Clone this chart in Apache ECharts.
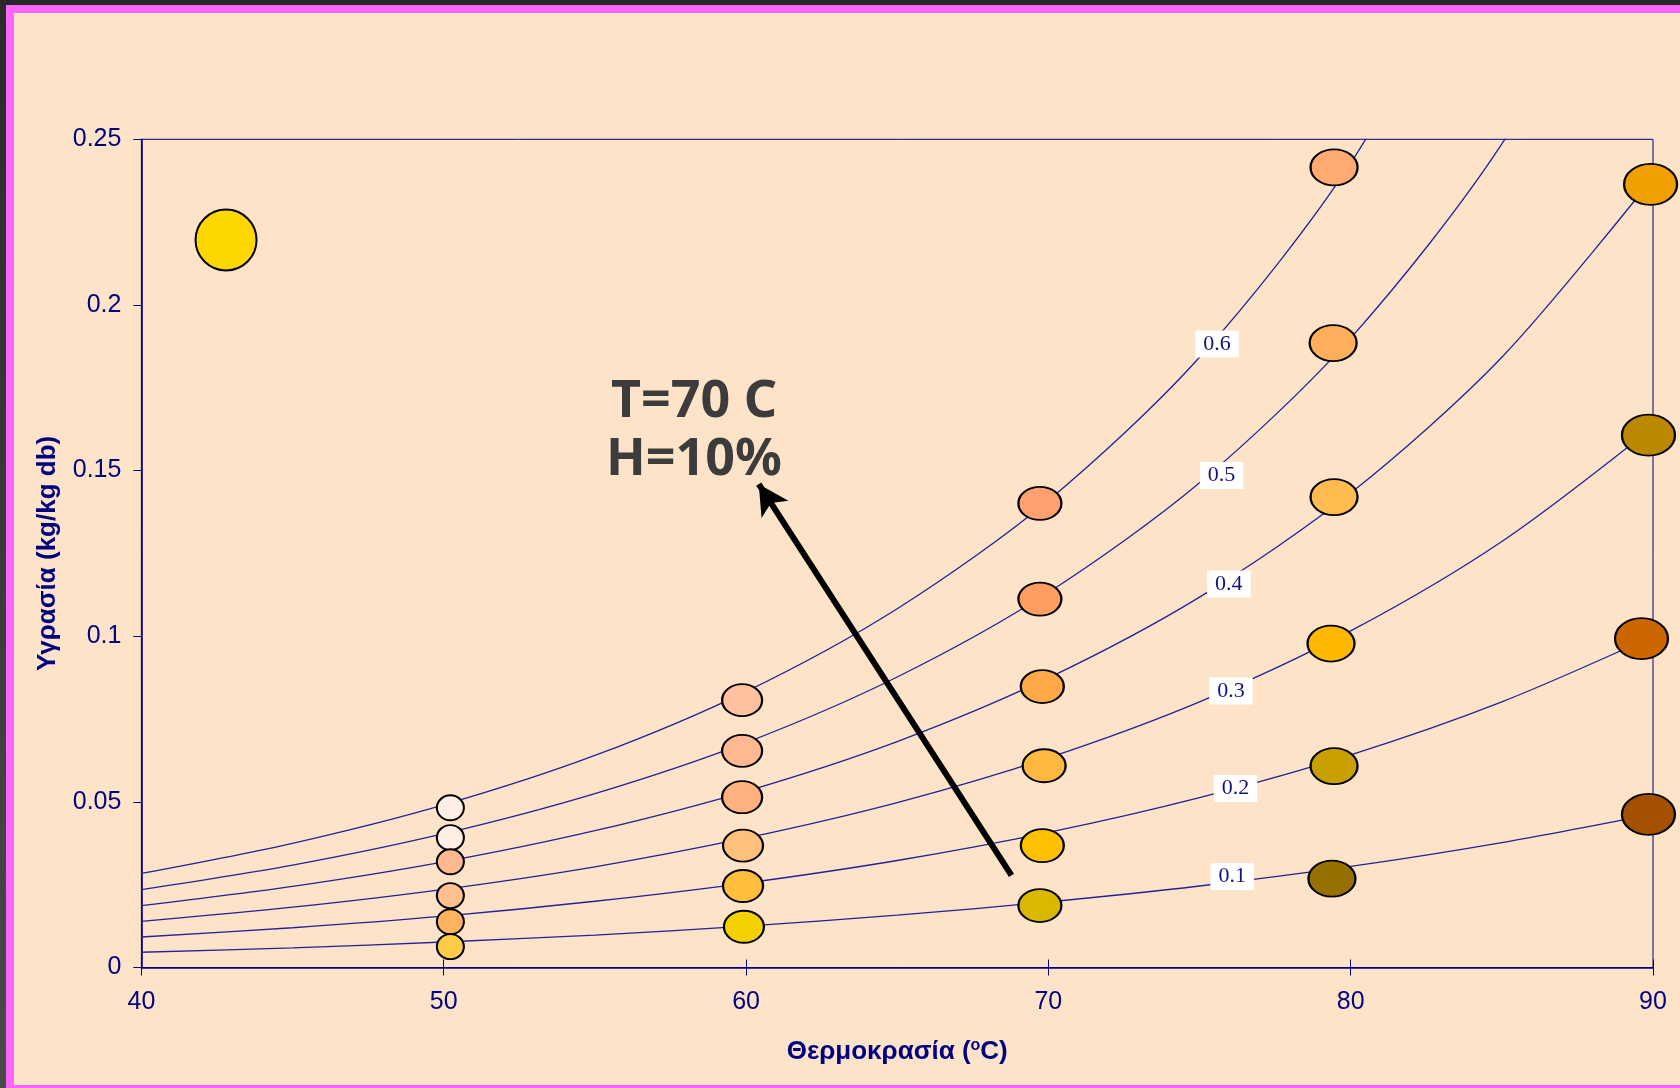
<!DOCTYPE html>
<html>
<head>
<meta charset="utf-8">
<script src="https://cdn.jsdelivr.net/npm/echarts@6/dist/echarts.min.js"></script>
<style>
  html, body { margin: 0; padding: 0; width: 1680px; height: 1088px; overflow: hidden; background: #2a2a2a; }
  #chart { position: absolute; left: 0; top: 0; width: 1680px; height: 1088px; background: #FDE3C8; }
  .bd { position: absolute; pointer-events: none; }
</style>
</head>
<body>
<div id="chart"></div>
<div class="bd" style="left:0;top:0;width:1680px;height:5px;background:#262626"></div>
<div class="bd" style="left:0;top:0;width:6px;height:1088px;background:linear-gradient(#2a2a2a,#4a4a4a)"></div>
<div class="bd" style="left:6px;top:5px;width:1674px;height:8px;background:#FF66FF"></div>
<div class="bd" style="left:6px;top:5px;width:8px;height:1083px;background:#FF66FF"></div>
<div class="bd" style="left:6px;top:1085px;width:1674px;height:3px;background:#FF66FF"></div>
<script>
// ---------- data ----------
const xTicks = [40, 50, 60, 70, 80, 90];
const curveX = [40, 45, 50, 55, 60, 65, 70, 75, 80, 85, 90];
const rh01 = [0.0046, 0.0059, 0.0077, 0.0098, 0.0125, 0.0158, 0.0198, 0.0246, 0.0305, 0.0377, 0.0463];
const rh02 = [0.0092, 0.0120, 0.0155, 0.0200, 0.0255, 0.0323, 0.0408, 0.0513, 0.0642, 0.0802, 0.1000];
const rh03 = [0.0139, 0.0182, 0.0236, 0.0304, 0.0391, 0.0498, 0.0633, 0.0802, 0.1016, 0.1286, 0.1631];
const rh04 = [0.0187, 0.0245, 0.0319, 0.0413, 0.0532, 0.0682, 0.0874, 0.1118, 0.1432, 0.1842, 0.2384];
const rh05 = [0.0235, 0.0309, 0.0404, 0.0525, 0.0679, 0.0877, 0.1132, 0.1463, 0.1900, 0.2486, 0.3295];
const rh06 = [0.0284, 0.0375, 0.0491, 0.0640, 0.0833, 0.1083, 0.1410, 0.1842, 0.2428, 0.3243, null];
const curveNames = ['0.1', '0.2', '0.3', '0.4', '0.5', '0.6'];

// markers (top to bottom in each column)
const markX50 = [50.22, 50.22, 50.22, 50.22, 50.22, 50.22];
const markY50 = [0.0482, 0.0392, 0.0319, 0.0217, 0.0138, 0.0063];
const markX60 = [59.87, 59.87, 59.87, 59.9, 59.9, 59.93];
const markY60 = [0.0807, 0.0654, 0.0514, 0.0368, 0.0246, 0.0123];
const markX70 = [69.72, 69.72, 69.8, 69.86, 69.8, 69.72];
const markY70 = [0.1401, 0.1112, 0.0848, 0.0609, 0.0368, 0.0187];
const markX80 = [79.45, 79.42, 79.45, 79.35, 79.45, 79.38];
const markY80 = [0.2415, 0.1885, 0.1420, 0.0978, 0.0608, 0.0268];
const markX90 = [89.92, 89.85, 89.62, 89.85];
const markY90 = [0.2364, 0.1607, 0.0993, 0.0462];
const bigX = [42.8];
const bigY = [0.2196];

// curve label positions
const lblX = [76.08, 76.19, 76.04, 75.97, 75.73, 75.58];
const lblY = [0.0275, 0.054, 0.0835, 0.1158, 0.1485, 0.1882];

// annotation
const noteText = ['T=70 C', 'H=10%'];
const noteX = [58.28];
const noteY = [0.1618];
const arrowFrom = [68.78, 0.0278];
const arrowTo = [60.42, 0.1459];

// ---------- styles ----------
const col50 = ['#FFEEE4', '#FFEEE4', '#FFB890', '#FFBF8E', '#FFB35E', '#FFCC48'];
const col60 = ['#FFC0A0', '#FFB890', '#FFB27E', '#FFC07E', '#FFBE3C', '#F5D000'];
const col70 = ['#FFA070', '#FF9E60', '#FFA848', '#FFB840', '#FFC000', '#DAB800'];
const col80 = ['#FFAA70', '#FFAE5C', '#FFBA50', '#FFB800', '#C8A000', '#967000'];
const col90 = ['#F0A000', '#BC8800', '#CC6600', '#A35000'];
const size50 = [27, 25], size60 = [40, 32], size70 = [43, 33], size80 = [47, 36], size90 = [53, 41];

const NAVY = '#000080';
const LINE = '#22229a';
const ELLIPSE = 'path://M0,10A10,10 0 1,1 20,10A10,10 0 1,1 0,10Z';
const SANS = '"Liberation Sans", Arial, sans-serif';

function col(xs, ys, colors, size) {
  return xs.map((x, i) => ({
    value: [x, ys[i]],
    symbolSize: size,
    itemStyle: { color: colors[i] }
  }));
}
const markerData = [].concat(
  col(markX50, markY50, col50, size50),
  col(markX60, markY60, col60, size60),
  col(markX70, markY70, col70, size70),
  col(markX80, markY80, col80, size80),
  col(markX90, markY90, col90, size90),
  col(bigX, bigY, ['#FFD700'], [61, 61])
);

const curves = [rh01, rh02, rh03, rh04, rh05, rh06];
const curveSeries = curves.map((arr, k) => ({
  name: 'RH ' + curveNames[k],
  type: 'line',
  data: curveX.map((x, i) => [x, arr[i]]),
  smooth: 0.3,
  showSymbol: false,
  symbol: 'none',
  clip: true,
  lineStyle: { color: LINE, width: 1.3 },
  z: 2,
  silent: true
}));

const chart = echarts.init(document.getElementById('chart'), null, { renderer: 'canvas' });
chart.setOption({
  animation: false,
  backgroundColor: 'transparent',
  grid: { left: 141.4, right: 27, top: 139.3, bottom: 120.5, show: true, borderColor: NAVY, borderWidth: 1, backgroundColor: 'transparent' },
  xAxis: [{
    type: 'value', min: 40, max: 90, interval: 10,
    name: 'Θερμοκρασία ({sup|o}C)',
    nameLocation: 'middle', nameGap: 70,
    nameTextStyle: {
      color: NAVY, fontFamily: SANS, fontWeight: 'bold', fontSize: 26,
      rich: { sup: { color: NAVY, fontFamily: SANS, fontWeight: 'bold', fontSize: 16, verticalAlign: 'top', padding: [0, 0, 12, 0] } }
    },
    axisLine: { show: true, onZero: false, lineStyle: { color: NAVY, width: 1.6 } },
    axisTick: { show: true, inside: false, length: 8, lineStyle: { color: NAVY, width: 1 } },
    axisLabel: { color: NAVY, fontFamily: SANS, fontSize: 25, margin: 22 },
    splitLine: { show: false }
  }, {
    type: 'value', min: 40, max: 90, interval: 10, position: 'bottom',
    axisLine: { show: false },
    axisTick: { show: true, inside: true, length: 8, lineStyle: { color: NAVY, width: 1 } },
    axisLabel: { show: false },
    splitLine: { show: false }
  }],
  yAxis: {
    type: 'value', min: 0, max: 0.25, interval: 0.05,
    name: 'Υγρασία (kg/kg db)',
    nameLocation: 'middle', nameGap: 81,
    nameTextStyle: { color: NAVY, fontFamily: SANS, fontWeight: 'bold', fontSize: 26 },
    axisLine: { show: true, onZero: false, lineStyle: { color: NAVY, width: 1.6 } },
    axisTick: { show: true, inside: false, length: 8, lineStyle: { color: NAVY, width: 1 } },
    axisLabel: { color: NAVY, fontFamily: SANS, fontSize: 25, margin: 20 },
    splitLine: { show: false }
  },
  series: curveSeries.concat([
    {
      name: 'markers', type: 'scatter', symbol: ELLIPSE, z: 4, silent: true,
      itemStyle: { borderColor: '#000', borderWidth: 2, opacity: 1 },
      data: markerData
    },
    {
      name: 'curve labels', type: 'scatter', symbolSize: 0, z: 5, silent: true,
      itemStyle: { opacity: 1 },
      data: lblX.map((x, i) => ({ value: [x, lblY[i]], name: curveNames[i] })),
      label: {
        show: true, position: 'inside', formatter: p => p.name, opacity: 1,
        backgroundColor: '#FFFFFF', padding: [3, 8, 2, 8],
        color: '#14147f', fontFamily: '"Liberation Serif", "Times New Roman", serif', fontSize: 22
      }
    },
    {
      name: 'note', type: 'scatter', symbolSize: 0, z: 6, silent: true,
      itemStyle: { opacity: 1 },
      data: [{ value: [noteX[0], noteY[0]] }],
      label: {
        show: true, position: 'inside', formatter: noteText.join('\n'), opacity: 1,
        color: '#3c3c3c', fontFamily: '"Noto Sans", "DejaVu Sans", sans-serif', fontWeight: 'bold',
        fontSize: 52, lineHeight: 58, align: 'center'
      },
      markLine: {
        silent: true, symbol: ['none', 'arrow'], symbolSize: [24, 30],
        label: { show: false },
        lineStyle: { color: '#000', width: 6, type: 'solid' },
        data: [[{ coord: arrowFrom }, { coord: arrowTo }]]
      }
    }
  ])
});
</script>
</body>
</html>
